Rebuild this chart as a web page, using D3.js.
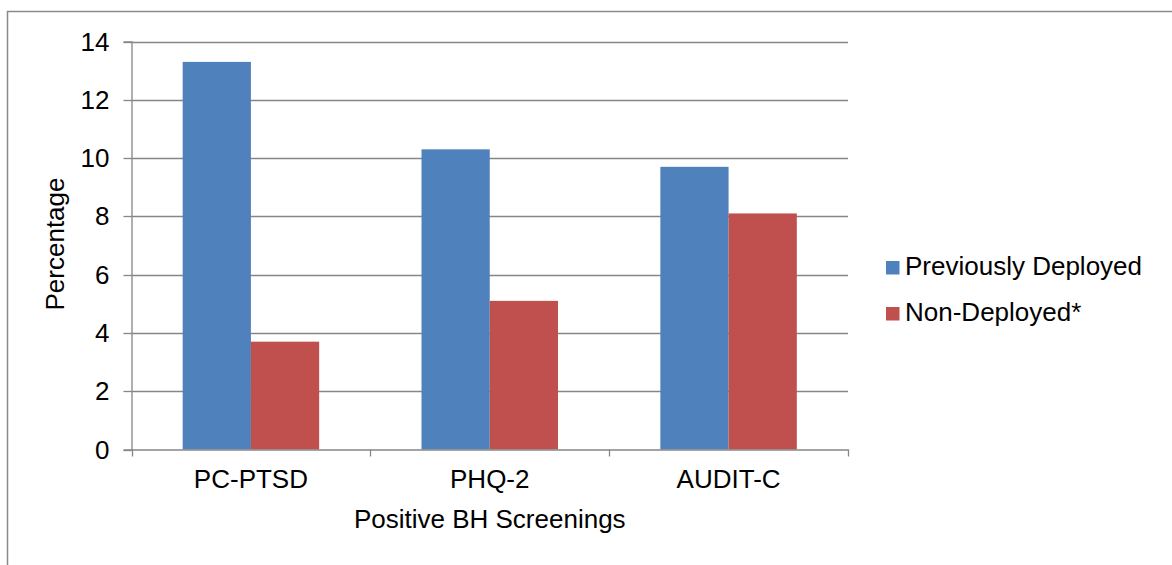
<!DOCTYPE html>
<html>
<head>
<meta charset="utf-8">
<script src="https://cdn.jsdelivr.net/npm/d3@7/dist/d3.min.js"></script>
<style>
  html, body { margin: 0; padding: 0; background: #fff; }
  svg { display: block; }
  text { font-family: "Liberation Sans", Arial, sans-serif; fill: #000; }
</style>
</head>
<body>
<svg id="chart" width="1172" height="565"></svg>
<script>
const categories = ["PC-PTSD", "PHQ-2", "AUDIT-C"];
const seriesNames = ["Previously Deployed", "Non-Deployed*"];
const previouslyDeployed = [13.3, 10.3, 9.7];
const nonDeployed = [3.7, 5.1, 8.1];
const yTicks = [0, 2, 4, 6, 8, 10, 12, 14];
const colors = ["#4F81BD", "#C0504D"];
const xTitle = "Positive BH Screenings";
const yTitle = "Percentage";

(function () {
const seriesValues = [previouslyDeployed, nonDeployed];
const data = categories.map((c, i) => ({
  cat: c,
  vals: seriesNames.map((s, j) => ({ key: s, value: seriesValues[j][i], color: colors[j] }))
}));

const svg = d3.select("#chart");
const mLeft = 131.5, mRight = 848, mTop = 41.5, mBottom = 449.5;
const fontSize = 26;
const gridColor = "#868686";

// outer border
svg.append("rect")
  .attr("x", 7.5).attr("y", 11.5)
  .attr("width", 1200).attr("height", 600)
  .attr("fill", "none").attr("stroke", "#8a8a8a").attr("stroke-width", 1.5);

const x0 = d3.scaleBand().domain(categories).range([mLeft, mRight]).paddingInner(0).paddingOuter(0);
const x1 = d3.scaleBand().domain(seriesNames).range([0, x0.bandwidth()]).paddingInner(0).paddingOuter(0.75);
const y = d3.scaleLinear().domain([0, 14]).range([mBottom, mTop]);

// gridlines
svg.append("g").selectAll("line").data(yTicks.filter(t => t > 0)).join("line")
  .attr("x1", mLeft).attr("x2", mRight)
  .attr("y1", d => Math.round(y(d)) + 0.5).attr("y2", d => Math.round(y(d)) + 0.5)
  .attr("stroke", gridColor).attr("stroke-width", 1.3);

// bars
const groups = svg.append("g").selectAll("g").data(data).join("g")
  .attr("transform", d => `translate(${x0(d.cat)},0)`);
groups.selectAll("rect").data(d => d.vals).join("rect")
  .attr("x", d => x1(d.key))
  .attr("width", x1.bandwidth())
  .attr("y", d => y(d.value))
  .attr("height", d => y(0) - y(d.value))
  .attr("fill", d => d.color);

// y axis
const yAxis = d3.axisLeft(y).tickValues(yTicks).tickSize(8).tickPadding(14).tickFormat(d3.format("d"));
const gy = svg.append("g").attr("transform", `translate(${mLeft},0)`).call(yAxis);
gy.select(".domain").attr("stroke", gridColor).attr("stroke-width", 1.3);
gy.selectAll(".tick line").attr("stroke", gridColor).attr("stroke-width", 1.3);
gy.selectAll(".tick text").attr("font-size", fontSize).attr("font-family", "Liberation Sans, Arial, sans-serif").attr("fill", "#000");
gy.selectAll(".tick").attr("transform", d => `translate(0,${Math.round(y(d)) + 0.5})`);

// x axis
const xAxis = d3.axisBottom(x0).tickSize(0).tickPadding(20);
const gx = svg.append("g").attr("transform", `translate(0,${mBottom})`).call(xAxis);
gx.select(".domain").attr("stroke", gridColor).attr("stroke-width", 1.3);
gx.selectAll(".tick text").attr("font-size", fontSize).attr("font-family", "Liberation Sans, Arial, sans-serif").attr("fill", "#000");
const bounds = categories.map(c => x0(c)).concat([mRight]);
gx.selectAll(".bound").data(bounds).join("line").attr("class", "bound")
  .attr("x1", d => Math.round(d) + 0.5).attr("x2", d => Math.round(d) + 0.5)
  .attr("y1", 0).attr("y2", 7)
  .attr("stroke", gridColor).attr("stroke-width", 1.3);

// axis titles
svg.append("text")
  .attr("x", (mLeft + mRight) / 2).attr("y", 528)
  .attr("text-anchor", "middle").attr("font-size", fontSize)
  .text(xTitle);
svg.append("text")
  .attr("transform", `translate(64,244) rotate(-90)`)
  .attr("text-anchor", "middle").attr("font-size", fontSize)
  .text(yTitle);

// legend
const legend = svg.append("g").selectAll("g").data(seriesNames).join("g")
  .attr("transform", (d, i) => `translate(886,${261 + i * 46})`);
legend.append("rect").attr("width", 13.5).attr("height", 13.5)
  .attr("fill", (d, i) => colors[i]);
legend.append("text").attr("x", 19).attr("y", 14)
  .attr("font-size", fontSize).text(d => d);
})();
</script>
</body>
</html>
